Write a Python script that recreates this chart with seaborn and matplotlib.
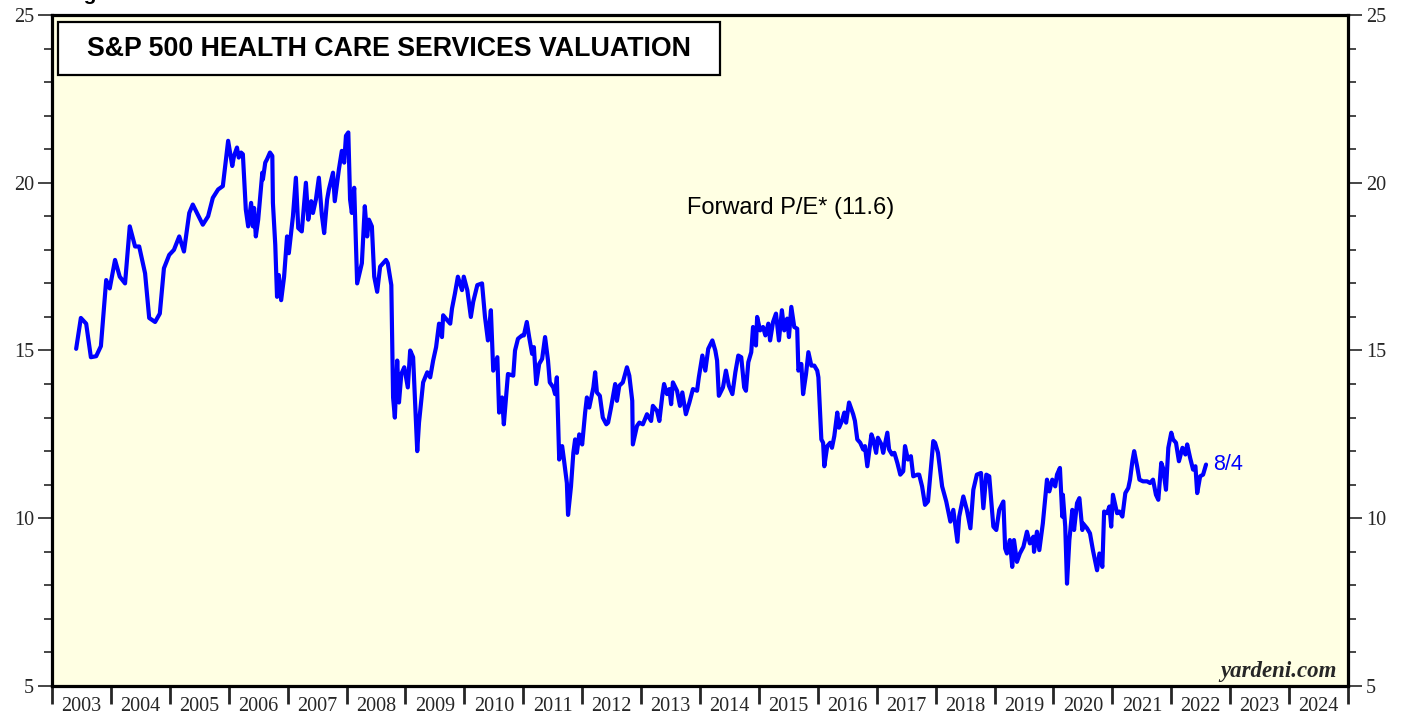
import numpy as np
import pandas as pd
import seaborn as sns
import matplotlib.pyplot as plt
from matplotlib.ticker import MultipleLocator, FixedLocator, NullFormatter, FixedFormatter
from matplotlib.patches import Rectangle

# dates as decimal years, forward P/E
dates = [
    2003.41, 2003.49, 2003.58, 2003.66, 2003.75, 2003.83, 2003.92, 2003.98, 2004.07, 2004.15,
    2004.24, 2004.32, 2004.41, 2004.48, 2004.58, 2004.65, 2004.75, 2004.83, 2004.90, 2004.99,
    2005.07, 2005.16, 2005.24, 2005.33, 2005.39, 2005.56, 2005.65, 2005.73, 2005.82, 2005.90,
    2005.99, 2006.06, 2006.09, 2006.14, 2006.17, 2006.21, 2006.24, 2006.29, 2006.33, 2006.38,
    2006.41, 2006.43, 2006.46, 2006.50, 2006.57, 2006.58, 2006.62, 2006.65, 2006.70, 2006.74,
    2006.75, 2006.79, 2006.82, 2006.85, 2006.89, 2006.94, 2006.99, 2007.02, 2007.09, 2007.14,
    2007.18, 2007.24, 2007.31, 2007.35, 2007.40, 2007.43, 2007.48, 2007.53, 2007.58, 2007.62,
    2007.67, 2007.70, 2007.77, 2007.80, 2007.87, 2007.92, 2007.96, 2007.99, 2008.03, 2008.06,
    2008.09, 2008.13, 2008.18, 2008.26, 2008.31, 2008.35, 2008.38, 2008.43, 2008.47, 2008.52,
    2008.57, 2008.67, 2008.70, 2008.76, 2008.79, 2008.82, 2008.86, 2008.89, 2008.93, 2008.98,
    2009.04, 2009.08, 2009.13, 2009.20, 2009.23, 2009.30, 2009.37, 2009.42, 2009.47, 2009.52,
    2009.57, 2009.62, 2009.64, 2009.71, 2009.76, 2009.79, 2009.84, 2009.89, 2009.96, 2009.99,
    2010.05, 2010.11, 2010.15, 2010.22, 2010.30, 2010.35, 2010.40, 2010.45, 2010.49, 2010.56,
    2010.59, 2010.64, 2010.67, 2010.74, 2010.83, 2010.86, 2010.91, 2010.98, 2011.01, 2011.06,
    2011.10, 2011.15, 2011.18, 2011.22, 2011.27, 2011.32, 2011.37, 2011.42, 2011.45, 2011.51,
    2011.54, 2011.57, 2011.61, 2011.66, 2011.69, 2011.74, 2011.76, 2011.81, 2011.85, 2011.88,
    2011.91, 2011.95, 2012.00, 2012.05, 2012.08, 2012.12, 2012.19, 2012.22, 2012.25, 2012.30,
    2012.35, 2012.41, 2012.44, 2012.49, 2012.56, 2012.59, 2012.63, 2012.69, 2012.76, 2012.80,
    2012.85, 2012.86, 2012.93, 2012.97, 2013.03, 2013.10, 2013.17, 2013.20, 2013.27, 2013.31,
    2013.36, 2013.39, 2013.44, 2013.48, 2013.51, 2013.54, 2013.61, 2013.66, 2013.70, 2013.76,
    2013.82, 2013.88, 2013.95, 2013.98, 2014.04, 2014.09, 2014.14, 2014.21, 2014.26, 2014.29,
    2014.32, 2014.39, 2014.44, 2014.49, 2014.55, 2014.60, 2014.65, 2014.70, 2014.75, 2014.78,
    2014.82, 2014.87, 2014.90, 2014.95, 2014.97, 2015.02, 2015.07, 2015.11, 2015.16, 2015.19,
    2015.24, 2015.29, 2015.34, 2015.39, 2015.43, 2015.48, 2015.51, 2015.55, 2015.60, 2015.65,
    2015.67, 2015.72, 2015.75, 2015.80, 2015.84, 2015.89, 2015.94, 2015.99, 2016.01, 2016.06,
    2016.09, 2016.11, 2016.16, 2016.21, 2016.24, 2016.28, 2016.33, 2016.36, 2016.41, 2016.45,
    2016.48, 2016.53, 2016.60, 2016.63, 2016.67, 2016.72, 2016.77, 2016.80, 2016.84, 2016.91,
    2016.94, 2016.99, 2017.02, 2017.08, 2017.11, 2017.18, 2017.21, 2017.26, 2017.30, 2017.35,
    2017.40, 2017.45, 2017.48, 2017.53, 2017.58, 2017.62, 2017.69, 2017.72, 2017.77, 2017.82,
    2017.87, 2017.96, 2017.99, 2018.04, 2018.11, 2018.18, 2018.25, 2018.30, 2018.37, 2018.40,
    2018.47, 2018.53, 2018.59, 2018.64, 2018.70, 2018.77, 2018.81, 2018.86, 2018.91, 2018.98,
    2019.03, 2019.08, 2019.15, 2019.18, 2019.21, 2019.26, 2019.30, 2019.33, 2019.38, 2019.43,
    2019.49, 2019.55, 2019.60, 2019.66, 2019.67, 2019.72, 2019.76, 2019.82, 2019.89, 2019.93,
    2019.98, 2020.03, 2020.06, 2020.11, 2020.15, 2020.16, 2020.20, 2020.23, 2020.27, 2020.32,
    2020.35, 2020.40, 2020.44, 2020.49, 2020.50, 2020.57, 2020.62, 2020.67, 2020.74, 2020.78,
    2020.83, 2020.86, 2020.91, 2020.95, 2020.98, 2021.01, 2021.08, 2021.12, 2021.17, 2021.22,
    2021.27, 2021.30, 2021.34, 2021.37, 2021.42, 2021.46, 2021.52, 2021.59, 2021.64, 2021.69,
    2021.74, 2021.78, 2021.83, 2021.86, 2021.91, 2021.95, 2022.00, 2022.03, 2022.08, 2022.13,
    2022.19, 2022.24, 2022.27, 2022.32, 2022.37, 2022.41, 2022.44, 2022.49, 2022.54, 2022.59,
]

forward_pe = [
    15.05, 15.97, 15.80, 14.80, 14.83, 15.13, 17.10, 16.85, 17.70, 17.20,
    17.00, 18.70, 18.10, 18.10, 17.30, 15.97, 15.85, 16.10, 17.45, 17.85,
    18.00, 18.40, 17.95, 19.10, 19.35, 18.75, 19.00, 19.55, 19.80, 19.90,
    21.25, 20.50, 20.80, 21.05, 20.75, 20.90, 20.85, 19.20, 18.70, 19.40,
    18.70, 19.25, 18.40, 18.90, 20.30, 20.10, 20.60, 20.70, 20.90, 20.80,
    19.40, 18.15, 16.60, 17.25, 16.50, 17.20, 18.40, 17.90, 19.00, 20.15,
    18.65, 18.55, 20.00, 18.90, 19.45, 19.10, 19.50, 20.15, 19.05, 18.50,
    19.50, 19.80, 20.30, 19.45, 20.40, 20.95, 20.60, 21.40, 21.50, 19.50,
    19.10, 19.85, 17.00, 17.60, 19.30, 18.40, 18.90, 18.70, 17.20, 16.75,
    17.50, 17.70, 17.60, 16.95, 13.60, 13.00, 14.70, 13.45, 14.30, 14.50,
    13.90, 15.00, 14.80, 12.00, 12.85, 14.05, 14.35, 14.20, 14.70, 15.10,
    15.80, 15.40, 16.05, 15.90, 15.80, 16.25, 16.70, 17.20, 16.80, 17.20,
    16.80, 16.00, 16.45, 16.95, 17.00, 16.00, 15.30, 16.20, 14.40, 14.80,
    13.15, 13.60, 12.80, 14.30, 14.25, 15.00, 15.35, 15.45, 15.45, 15.85,
    15.40, 14.90, 15.10, 14.00, 14.60, 14.75, 15.40, 14.70, 14.05, 13.90,
    13.70, 14.20, 11.75, 12.15, 11.75, 11.05, 10.10, 10.95, 11.95, 12.35,
    11.95, 12.50, 12.20, 13.15, 13.60, 13.30, 13.90, 14.35, 13.75, 13.65,
    13.00, 12.80, 12.85, 13.30, 14.00, 13.50, 13.95, 14.05, 14.50, 14.25,
    13.50, 12.20, 12.75, 12.85, 12.80, 13.10, 12.90, 13.35, 13.20, 12.90,
    13.65, 14.00, 13.70, 13.85, 13.40, 14.05, 13.80, 13.35, 13.75, 13.10,
    13.45, 13.85, 13.80, 14.20, 14.85, 14.40, 15.05, 15.30, 15.00, 14.70,
    13.65, 13.90, 14.40, 13.95, 13.70, 14.35, 14.85, 14.80, 13.90, 13.80,
    14.65, 14.95, 15.70, 15.15, 16.00, 15.60, 15.70, 15.45, 15.80, 15.30,
    15.85, 16.10, 15.30, 16.20, 15.60, 15.95, 15.40, 16.30, 15.70, 15.65,
    14.40, 14.60, 13.70, 14.30, 14.95, 14.55, 14.55, 14.40, 14.20, 12.35,
    12.25, 11.55, 12.15, 12.25, 12.10, 12.45, 13.15, 12.70, 12.90, 13.15,
    12.85, 13.45, 13.10, 12.90, 12.35, 12.25, 12.05, 12.15, 11.55, 12.50,
    12.35, 11.95, 12.40, 12.20, 11.95, 12.55, 12.05, 11.90, 11.95, 11.65,
    11.30, 11.40, 12.15, 11.75, 11.85, 11.25, 11.30, 11.30, 10.95, 10.40,
    10.50, 12.30, 12.25, 11.95, 10.95, 10.50, 9.90, 10.25, 9.30, 10.05,
    10.65, 10.25, 9.70, 10.85, 11.30, 11.35, 10.30, 11.30, 11.25, 9.75,
    9.65, 10.25, 10.50, 9.10, 8.95, 9.35, 8.55, 9.35, 8.70, 8.95,
    9.15, 9.60, 9.25, 9.45, 9.00, 9.60, 9.05, 9.85, 11.15, 10.80,
    11.15, 10.95, 11.30, 11.50, 10.05, 10.70, 9.75, 8.05, 9.35, 10.25,
    9.65, 10.45, 10.60, 9.65, 9.85, 9.70, 9.55, 9.05, 8.45, 8.95,
    8.55, 10.20, 10.15, 10.35, 9.75, 10.70, 10.15, 10.20, 10.05, 10.75,
    10.90, 11.15, 11.70, 12.00, 11.55, 11.15, 11.10, 11.10, 11.05, 11.15,
    10.70, 10.55, 11.65, 11.50, 10.85, 12.10, 12.55, 12.35, 12.25, 11.70,
    12.10, 11.90, 12.20, 11.80, 11.45, 11.55, 10.75, 11.25, 11.30, 11.60,
]

year_labels = [str(y) for y in range(2003, 2025)]
title = "S&P 500 HEALTH CARE SERVICES VALUATION"
series_label = "Forward P/E* (11.6)"
last_label = "8/4"

df = pd.DataFrame({"date": dates, "pe": forward_pe})

sns.set_theme(style="ticks")
plt.rcParams["font.family"] = ["Liberation Sans", "DejaVu Sans"]
serif = ["Liberation Serif", "DejaVu Serif"]

fig = plt.figure(figsize=(14.07, 7.19), dpi=100)
ax = fig.add_axes([52 / 1407, 33 / 719, 1296 / 1407, 671 / 719])
ax.set_facecolor("#FFFFE3")

sns.lineplot(data=df, x="date", y="pe", ax=ax, color="#0000FF",
             linewidth=3.0, estimator=None, sort=False)

ax.set_xlim(2003, 2025)
ax.set_ylim(5, 25)
ax.set_xlabel("")
ax.set_ylabel("")

for s in ax.spines.values():
    s.set_linewidth(2.3)
    s.set_color("black")

# y axis both sides
ax.yaxis.set_major_locator(MultipleLocator(5))
ax.yaxis.set_minor_locator(MultipleLocator(1))
ax.tick_params(axis="y", which="major", length=10, width=1.2, direction="out",
               left=True, right=True, labelleft=True, labelright=True,
               labelsize=14.5, pad=3)
ax.tick_params(axis="y", which="minor", length=5.5, width=1.2, direction="out",
               left=True, right=True)

# x axis: ticks at year boundaries, labels mid-year
ax.xaxis.set_major_locator(FixedLocator(np.arange(2003, 2026)))
ax.xaxis.set_major_formatter(NullFormatter())
ax.xaxis.set_minor_locator(FixedLocator(np.arange(2003, 2025) + 0.5))
ax.xaxis.set_minor_formatter(FixedFormatter(year_labels))
ax.tick_params(axis="x", which="major", length=13, width=2, direction="out")
ax.tick_params(axis="x", which="minor", length=0, labelsize=14.5, pad=8)

for lab in ax.get_xticklabels(minor=True):
    lab.set_family(serif)
for t in ax.yaxis.get_major_ticks():
    t.label1.set_family(serif)
    t.label2.set_family(serif)
    t.label2.set_fontsize(14.5)

# title box
ax.add_patch(Rectangle((0.0046, 0.9106), 0.511, 0.079, transform=ax.transAxes,
                       facecolor="white", edgecolor="black", linewidth=1.6, zorder=5))
ax.text(0.2597, 0.950, title, transform=ax.transAxes, ha="center", va="center",
        fontsize=19.3, fontweight="bold", color="black", zorder=6)

ax.text(0.570, 0.712, series_label, transform=ax.transAxes, ha="center", va="center",
        fontsize=17, color="black")
ax.text(dates[-1] + 0.12, forward_pe[-1], last_label, ha="left", va="center",
        fontsize=15.5, color="#0000FF")
ax.text(0.9915, 0.021, "yardeni.com", transform=ax.transAxes, ha="right", va="center",
        fontsize=16.5, fontweight="bold", fontstyle="italic", family=serif)

# cut-off figure caption at the very top, as in the source image
fig.text(66 / 1407, 1.0, "Figure", ha="left", va="baseline", fontsize=15,
         fontweight="bold", color="black")

fig.savefig("out.png", dpi=100, facecolor="white")
